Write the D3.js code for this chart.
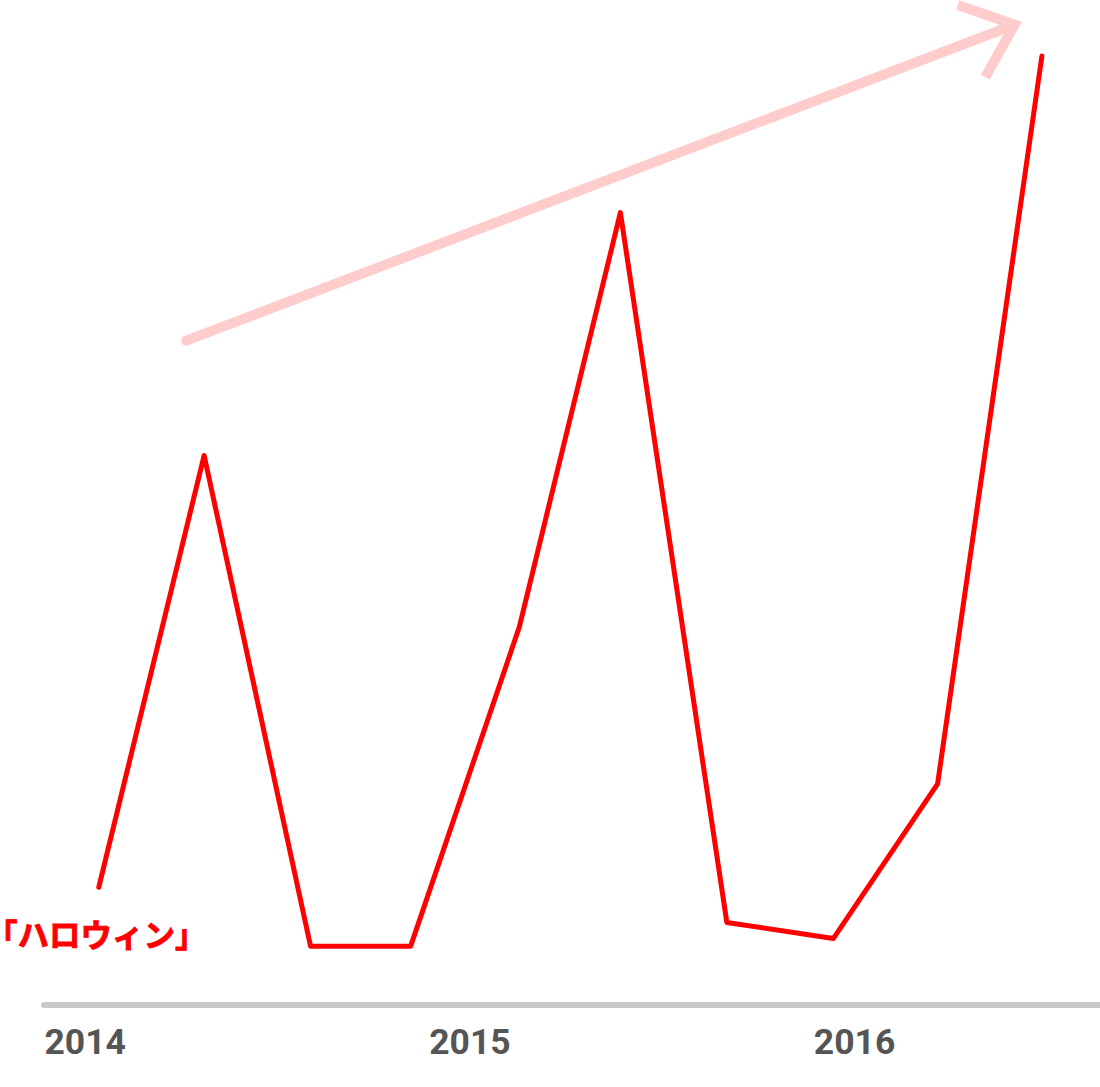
<!DOCTYPE html>
<html><head><meta charset="utf-8">
<script src="https://cdn.jsdelivr.net/npm/d3@7"></script>
<style>
html,body{margin:0;padding:0;background:#fff;}
svg{display:block;}
.halt{font-feature-settings:"halt" 1;}
</style></head>
<body>
<svg id="chart" width="1100" height="1087"></svg>
<script>
// Data
const dates = ["2014-02-21","2014-06-01","2014-09-10","2014-12-14","2015-03-27","2015-07-01","2015-10-10","2016-01-19","2016-04-27","2016-08-04"];
const values = [12.4, 57.9, 6.2, 6.2, 39.8, 83.5, 8.7, 7.0, 23.3, 100];
const tickLabels = ["2014","2015","2016"];
const seriesLabel = "「ハロウィン」";
const arrowStart = {date:"2014-05-15", value:70};
const arrowEnd = {date:"2016-07-09", value:103.3};

const parse = d3.timeParse("%Y-%m-%d");
const data = dates.map((d,i)=>({date:parse(d), value:values[i]}));

const svg = d3.select("#chart");
const W = 1100, H = 1087;
const axisY = 1005;

const x = d3.scaleTime()
  .domain([parse("2014-01-01"), parse("2017-01-01")])
  .range([45, 45 + 3*385]);
const y = d3.scaleLinear().domain([0,100]).range([axisY, 56]);

// axis baseline
svg.append("line")
  .attr("x1", 44).attr("x2", W + 10)
  .attr("y1", axisY).attr("y2", axisY)
  .attr("stroke", "#c8c8c8").attr("stroke-width", 6)
  .attr("stroke-linecap", "round");

// tick labels
const xAxis = d3.axisBottom(x)
  .tickValues(tickLabels.map(t=>parse(t+"-01-01")))
  .tickFormat(d3.timeFormat("%Y"))
  .tickSize(0);
const gAxis = svg.append("g").attr("transform", `translate(0,${axisY})`).call(xAxis);
gAxis.select(".domain").remove();
gAxis.selectAll("text")
  .attr("text-anchor","start")
  .attr("x", -1)
  .attr("y", 49).attr("dy", null)
  .attr("font-family","Roboto, 'Noto Sans', sans-serif")
  .attr("font-weight","bold")
  .attr("font-size", 35.5)
  .attr("fill","#555555");

// arrow
const ax1 = x(parse(arrowStart.date)), ay1 = y(arrowStart.value);
const ax2 = x(parse(arrowEnd.date)), ay2 = y(arrowEnd.value);
svg.append("line")
  .attr("x1", ax1).attr("y1", ay1).attr("x2", ax2 - 6).attr("y2", ay2 + 2.3)
  .attr("stroke", "#ffcccc").attr("stroke-width", 10)
  .attr("stroke-linecap", "round");
const ang = Math.atan2(ay1 - ay2, ax1 - ax2);
const headLen = 60, spread = 40 * Math.PI/180;
const hp = [
  [ax2 + headLen*Math.cos(ang - spread), ay2 + headLen*Math.sin(ang - spread)],
  [ax2, ay2],
  [ax2 + headLen*Math.cos(ang + spread), ay2 + headLen*Math.sin(ang + spread)]
];
svg.append("path")
  .attr("d", d3.line()(hp))
  .attr("fill","none")
  .attr("stroke", "#ffcccc").attr("stroke-width", 10)
  .attr("stroke-linejoin","miter").attr("stroke-linecap","butt");

// red line
svg.append("path")
  .datum(data)
  .attr("d", d3.line().x(d=>x(d.date)).y(d=>y(d.value)))
  .attr("fill","none")
  .attr("stroke","#ff0000").attr("stroke-width",5)
  .attr("stroke-linejoin","round").attr("stroke-linecap","round");

// series label
const chars = Array.from(seriesLabel);
const lbl = svg.append("text")
  .attr("x", x(data[0].date) - 97)
  .attr("y", 947)
  .attr("font-family","'Noto Sans CJK JP', 'Noto Sans CJK SC', sans-serif")
  .attr("font-weight","700")
  .attr("font-size", 31.5)
  .attr("fill","#ff0000")
  .attr("stroke","#ff0000")
  .attr("stroke-width", 0.9);
lbl.append("tspan").attr("class","halt").text(chars[0]);
lbl.append("tspan").text(chars.slice(1, -1).join(""));
lbl.append("tspan").attr("class","halt").text(chars[chars.length-1]);
</script>
</body></html>
